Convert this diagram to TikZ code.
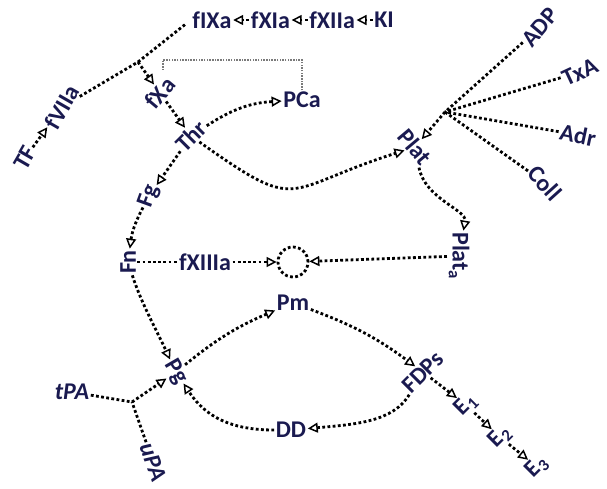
\documentclass[tikz,border=0pt]{standalone}
\usepackage{fontspec}
\setsansfont{Carlito}
\usetikzlibrary{arrows.meta,positioning}
\definecolor{ink}{HTML}{1A1A50}
\definecolor{bracketGray}{HTML}{7A7A7A}
\tikzset{
  lbl/.style   ={font=\sffamily\bfseries\fontsize{24}{27}\selectfont, text=ink, inner sep=1.5pt},
  slant/.style ={lbl, font=\sffamily\bfseries\itshape\fontsize{24}{27}\selectfont},
  link/.style  ={line width=2.8pt, dash pattern=on 2.8pt off 2.4pt},
  arr/.style   ={link, -{Triangle[open, length=10pt, width=10pt, line width=1.5pt]}},
  ring/.style  ={draw, link, circle, minimum size=30pt, inner sep=0pt},
  inhib/.style ={draw=bracketGray, line width=1.5pt, dash pattern=on 1.5pt off 1.2pt},
}

\begin{document}
\begin{tikzpicture}[x=1pt, y=-1pt]
  \useasboundingbox (0,0) rectangle (607,488);

  % extrinsic / intrinsic start
  \node[lbl, rotate=60] (tf)    at (25,158)  {TF};
  \node[lbl, rotate=60] (f7)    at (62,107)  {fVIIa};
  \coordinate            (jA)   at (138,62);
  \node[lbl]             (f9)   at (212,20)  {fIXa};
  \node[lbl, right=16pt of f9]  (f11) {fXIa};
  \node[lbl, right=16pt of f11] (f12) {fXIIa};
  \node[lbl, right=16pt of f12] (ki)  {KI};
  \draw[arr] (tf) -- (f7);
  \draw[link] (f7) -- (jA);
  \draw[link, shorten >=6pt] (jA) -- (f9.west);
  \foreach \a/\b in {f11/f9, f12/f11, ki/f12}
      \draw[arr] (\a) -- (\b);

  % thrombin and protein C
  \node[lbl, rotate=50] (f10)  at (160,93)  {fXa};
  \node[lbl, rotate=45] (thr)  at (191,136) {Thr};
  \node[lbl]            (pca)  at (302,100) {PCa};
  \coordinate           (pcTop) at (163,60);
  \coordinate           (pcEnd) at (163,71);
  \draw[arr] (jA) -- (f10);
  \draw[arr] (f10) -- (thr);
  \draw[arr] (thr) to[bend left=15] (pca);
  \draw[inhib] (pca.north) |- (pcTop) -- (pcEnd);

  % platelets
  \node[lbl, rotate=-50] (plat)  at (415,147) {Plat};
  \coordinate            (jB)    at (445,112);
  \node[lbl, rotate=50]  (adp)   at (540,27)  {ADP};
  \node[lbl, rotate=25]  (txa)   at (580,72)  {TxA};
  \node[lbl, rotate=-12] (adr)   at (578,135) {Adr};
  \node[lbl, rotate=-48] (coll)  at (545,183) {Coll};
  \node[lbl, rotate=-90] (plata) at (459,256) {Plat\textsubscript{a}};
  \draw[arr] (thr) to[out=-40, in=205, looseness=1.7] (plat);
  \foreach \s in {adp, txa, adr, coll}
      \draw[link] (\s) -- (jB);
  \draw[arr] (jB) -- (plat);
  \draw[arr] (plat) to[out=-70, in=95] (plata);

  % fibrin clot
  \node[lbl, rotate=70] (fg)    at (149,196) {Fg};
  \node[lbl, rotate=90] (fn)    at (128,262) {Fn};
  \node[lbl]            (f13)   at (205,262) {fXIIIa};
  \node[ring]           (clot)  at (293,262) {};
  \draw[arr] (thr) -- (fg);
  \draw[arr] (fg) to[bend right=10] (fn);
  \draw[link] (fn) -- (f13);
  \draw[arr] (f13) -- (clot);
  \draw[arr] (plata) -- (clot);

  % fibrinolysis
  \node[lbl, rotate=-60] (pg)   at (176,372) {Pg};
  \node[lbl]             (pm)   at (293,303) {Pm};
  \node[lbl, rotate=45]  (fdp)  at (423,372) {FDPs};
  \node[lbl]             (dd)   at (291,430) {DD};
  \node[lbl, rotate=45]  (e1)   at (466,405) {E\textsubscript{1}};
  \node[lbl, rotate=45]  (e2)   at (500,437) {E\textsubscript{2}};
  \node[lbl, rotate=45]  (e3)   at (537,467) {E\textsubscript{3}};
  \node[slant]           (tpa)  at (72,392)  {tPA};
  \node[slant, rotate=-70] (upa) at (153,462) {uPA};
  \coordinate            (jC)   at (132,402);
  \draw[arr] (fn) to[out=-85, in=130] (pg);
  \draw[arr] (pg) to[bend left=8] (pm);
  \draw[arr] (pm) to[bend left=8] (fdp);
  \draw[arr] (fdp) to[out=-130, in=5] (dd);
  \draw[arr] (dd) to[out=180, in=-40] (pg);
  \foreach \a/\b in {fdp/e1, e1/e2, e2/e3}
      \draw[arr] (\a) -- (\b);
  \draw[link] (tpa) -- (jC);
  \draw[link] (upa) -- (jC);
  \draw[arr] (jC) -- (pg);
\end{tikzpicture}
\end{document}
